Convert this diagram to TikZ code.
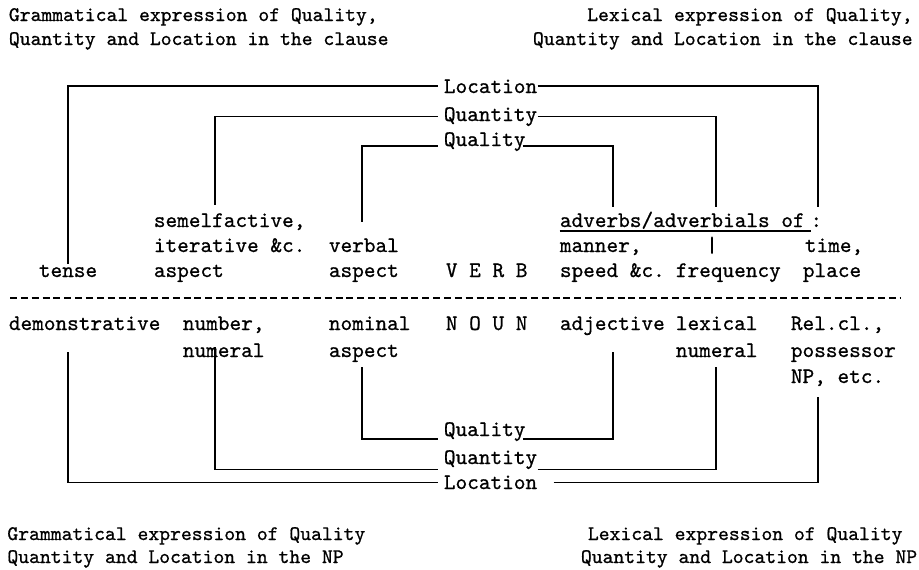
\documentclass[tikz,border=0pt]{standalone}
\usepackage{fontspec}
\usepackage{tikz}
\newfontfamily\typewriter{lmmono10-regular.otf}[FakeBold=0.8]

\begin{document}
\begin{tikzpicture}[
  x=0.5pt, y=-0.5pt,
  head/.style={inner sep=0pt, anchor=base west, font=\typewriter\fontsize{10.33}{12}\selectfont},
  cell/.style={inner sep=0pt, anchor=base west, font=\typewriter\fontsize{11.1}{13}\selectfont},
  link/.style={line width=0.8pt, line join=miter}
]
\useasboundingbox (0,0) rectangle (919,569);

% headings
\node[head] (gramC1) at (8.5,21) {Grammatical expression of Quality,};
\node[head] (gramC2) at (8.5,45) {Quantity and Location in the clause};
\node[head, anchor=base east] (lexC1) at (913,21) {Lexical expression of Quality,};
\node[head, anchor=base east] (lexC2) at (913,45) {Quantity and Location in the clause};
\node[head] (gramN1) at (7,540) {Grammatical expression of Quality};
\node[head] (gramN2) at (7,563) {Quantity and Location in the NP};
\node[head] (lexN1) at (587.5,540) {Lexical expression of Quality};
\node[head] (lexN2) at (580.5,563) {Quantity and Location in the NP};

% the three categories
\node[cell] (locT) at (443.5,93) {Location};
\node[cell] (qtT) at (443.5,121) {Quantity};
\node[cell] (qlT) at (443.5,146) {Quality};
\node[cell] (qlB) at (443.5,436) {Quality};
\node[cell] (qtB) at (443.5,464) {Quantity};
\node[cell] (locB) at (443.5,489) {Location};

% clause
\node[cell] (semel) at (153.5,227) {semelfactive,};
\node[cell] (adv) at (559.5,227) {adverbs/adverbials of};
\node[cell] (colon) at ([xshift=2.5pt]adv.base east) {:};
\node[cell] (iter) at (153.5,252) {iterative \&c.};
\node[cell] (verbal) at (328.5,252) {verbal};
\node[cell] (manner) at (559.5,252) {manner,};
\node[cell, anchor=base] (bar) at (712,252) {|};
\node[cell] (time) at (804.5,252) {time,};
\node[cell] (tense) at (38.5,277) {tense};
\node[cell] (aspI) at (153.5,277) {aspect};
\node[cell] (aspV) at (328.5,277) {aspect};
\node[cell] (verb) at (445.5,277) {V E R B};
\node[cell] (speed) at (559.5,277) {speed \&c.};
\node[cell] (freq) at (675.5,277) {frequency};
\node[cell] (place) at (802.5,277) {place};

\draw[link] ([yshift=-2pt]adv.base west) -- ([yshift=-2pt,xshift=3pt]adv.base east);

% clause / NP divider
\draw[line width=1pt, dash pattern=on 3.5pt off 1.925pt] (10,298) -- (900,298);

% noun phrase
\node[cell] (demo) at (8.5,330) {demonstrative};
\node[cell] (number) at (182.5,330) {number,};
\node[cell] (nominal) at (328.5,330) {nominal};
\node[cell] (noun) at (445.5,330) {N O U N};
\node[cell] (adj) at (559.5,330) {adjective};
\node[cell] (lexical) at (675.5,330) {lexical};
\node[cell] (relcl) at (790.5,330) {Rel.cl.,};
\node[cell] (numeral) at (182.5,357) {numeral};
\node[cell] (aspN) at (328.5,357) {aspect};
\node[cell] (lexnum) at (675.5,357) {numeral};
\node[cell] (poss) at (790.5,357) {possessor};
\node[cell] (npetc) at (790.5,383) {NP, etc.};

% stems of the brackets
\coordinate (semelT) at (215,205);
\coordinate (verbalT) at (362,222);
\coordinate (mannerT) at (613,207);
\coordinate (freqT) at (716,207);
\coordinate (timeT) at (818,207);
\coordinate (demoB) at (68,352);
\coordinate (numberB) at (215,347);
\coordinate (aspNB) at (362,367);
\coordinate (adjB) at (613,352);
\coordinate (lexnumB) at (716,367);
\coordinate (npB) at (818,397);

% brackets above
\draw[link] ([xshift=-3pt]locT.west) -| (tense.north);
\draw[link] (locT.east) -| (timeT);
\draw[link] ([xshift=-3pt]qtT.west) -| (semelT);
\draw[link] (qtT.east) -| (freqT);
\draw[link] ([xshift=-3pt]qlT.base west) -| (verbalT);
\draw[link] ([xshift=-1.5pt]qlT.base east) -| (mannerT);

% brackets below
\draw[link] ([xshift=-3pt,yshift=-1.5pt]qlB.base west) -| (aspNB);
\draw[link] ([xshift=-1.5pt,yshift=-1.5pt]qlB.base east) -| (adjB);
\draw[link] ([xshift=-3pt]qtB.south west) -| (numberB);
\draw[link] (qtB.south east) -| (lexnumB);
\draw[link] ([xshift=-3pt]locB.west) -| (demoB);
\draw[link] ([xshift=8pt]locB.east) -| (npB);
\end{tikzpicture}
\end{document}
